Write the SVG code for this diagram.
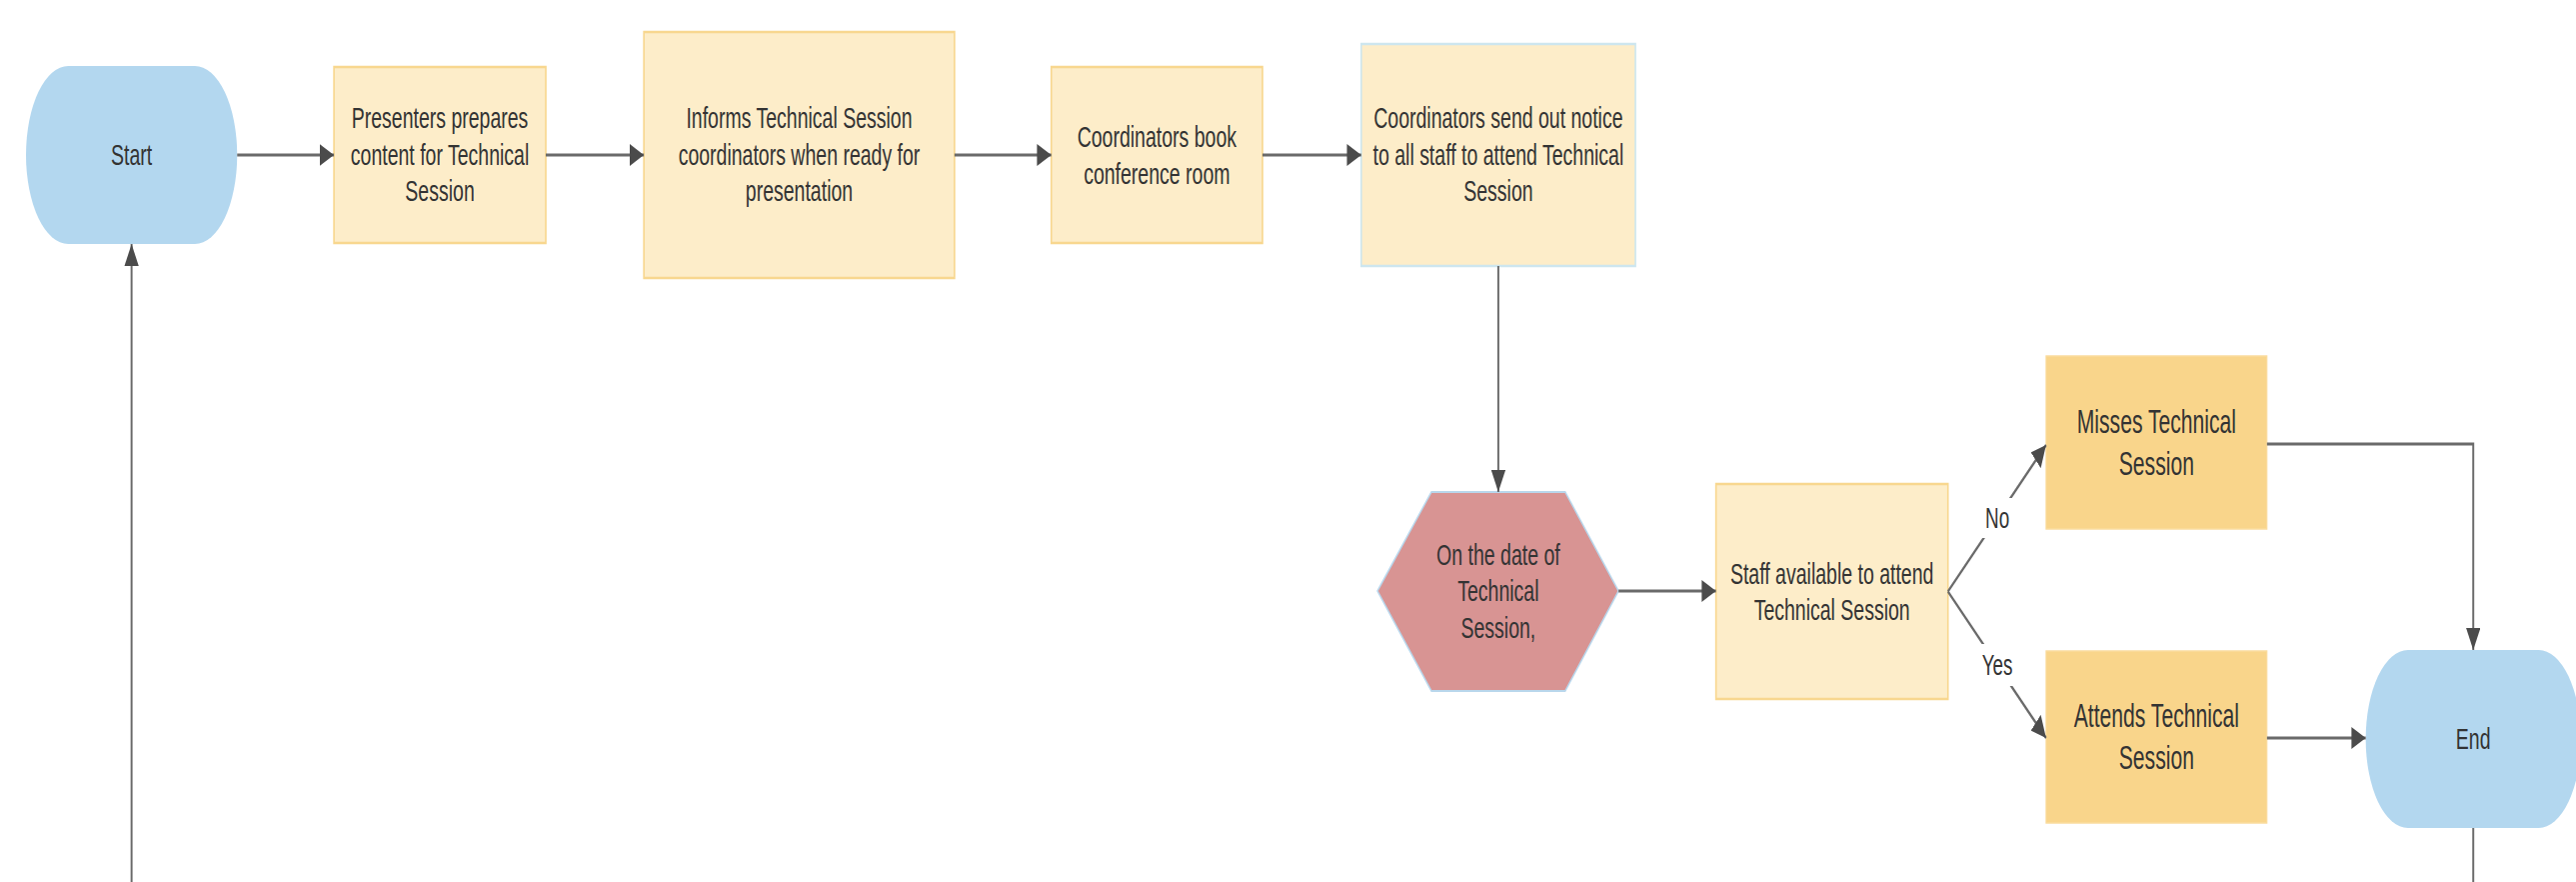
<svg xmlns="http://www.w3.org/2000/svg" width="2577" height="882" viewBox="0 0 2577 882">
<style>
  .term { fill: #b3d7ef; stroke: none; }
  .proc { fill: #fdedc9; stroke: #f8d78f; stroke-width: 2.5; }
  .proc-blue { fill: #fdedc9; stroke: #cde6ef; stroke-width: 2.5; }
  .outcome { fill: #f9d58b; stroke: #fadc9e; stroke-width: 1.5; }
  .hex { fill: #d89493; stroke: #b9d7ec; stroke-width: 2; }
  .edge { fill: none; stroke: #6a6a6a; stroke-width: 3; marker-end: url(#arrow); }
  text { font-family: "Liberation Sans", Arial, sans-serif; fill: #333333; text-anchor: middle; }
  .t { font-size: 30px; }
  .tb { font-size: 32.5px; }
  .lbl { font-size: 29px; }
  .lblbg { fill: #ffffff; stroke: none; }
</style>
<defs>
  <marker id="arrow" markerUnits="userSpaceOnUse" markerWidth="22" markerHeight="22" viewBox="0 0 22 22" refX="22" refY="11" orient="auto">
    <path d="M0,0 L22,11 L0,22 Z" fill="#4b4b4b"/>
  </marker>
</defs>
<rect x="0" y="0" width="2577" height="882" fill="#ffffff"/>
<g transform="scale(0.65,1)">
  <g id="node-start">
    <rect class="term" x="40" y="66" width="325" height="178" rx="65" ry="89"/>
    <text class="t" x="202.5" y="165.5">Start</text>
  </g>
  <g id="node-presenters">
    <rect class="proc" x="514" y="67" width="326" height="176"/>
    <text class="t" x="677" y="128.5">Presenters prepares</text>
    <text class="t" x="677" y="165">content for Technical</text>
    <text class="t" x="677" y="201.5">Session</text>
  </g>
  <g id="node-informs">
    <rect class="proc" x="991" y="32" width="478" height="246"/>
    <text class="t" x="1230" y="128.5">Informs Technical Session</text>
    <text class="t" x="1230" y="165">coordinators when ready for</text>
    <text class="t" x="1230" y="201.5">presentation</text>
  </g>
  <g id="node-book">
    <rect class="proc" x="1618" y="67" width="325" height="176"/>
    <text class="t" x="1780.5" y="147.25">Coordinators book</text>
    <text class="t" x="1780.5" y="183.75">conference room</text>
  </g>
  <g id="node-notice">
    <rect class="proc-blue" x="2095" y="44" width="422" height="222"/>
    <text class="t" x="2306" y="128.5">Coordinators send out notice</text>
    <text class="t" x="2306" y="165">to all staff to attend Technical</text>
    <text class="t" x="2306" y="201.5">Session</text>
  </g>
  <g id="node-date">
    <polygon class="hex" points="2120,591 2203,492 2409,492 2491,591 2409,691 2203,691"/>
    <text class="t" x="2306" y="565">On the date of</text>
    <text class="t" x="2306" y="601.5">Technical</text>
    <text class="t" x="2306" y="638">Session,</text>
  </g>
  <g id="node-available">
    <rect class="proc" x="2641" y="484" width="357" height="215"/>
    <text class="t" x="2819.5" y="583.75">Staff available to attend</text>
    <text class="t" x="2819.5" y="620.25">Technical Session</text>
  </g>
  <g id="node-misses">
    <rect class="outcome" x="3149" y="356" width="340" height="173"/>
    <text class="tb" x="3319" y="433">Misses Technical</text>
    <text class="tb" x="3319" y="475">Session</text>
  </g>
  <g id="node-attends">
    <rect class="outcome" x="3149" y="651" width="340" height="172"/>
    <text class="tb" x="3319" y="727.5">Attends Technical</text>
    <text class="tb" x="3319" y="769.5">Session</text>
  </g>
  <g id="node-end">
    <rect class="term" x="3641" y="650" width="331" height="178" rx="65" ry="89"/>
    <text class="t" x="3806.5" y="749.5">End</text>
  </g>
  <g id="connectors">
    <path class="edge" d="M365,155 H514"/>
    <path class="edge" d="M840,155 H991"/>
    <path class="edge" d="M1469,155 H1618"/>
    <path class="edge" d="M1943,155 H2095"/>
    <path class="edge" d="M2306,266 V492"/>
    <path class="edge" d="M2491,591 H2641"/>
    <path class="edge" d="M2998,591.5 L3149,445"/>
    <path class="edge" d="M2998,591.5 L3149,738"/>
    <path class="edge" d="M3489,444 H3806.5 V650"/>
    <path class="edge" d="M3489,738 H3641"/>
    <path class="edge" d="M3806.5,828 V910 H202.5 V244"/>
    <g id="label-no">
      <rect class="lblbg" x="3045" y="498" width="58" height="40"/>
      <text class="lbl" x="3074" y="528">No</text>
    </g>
    <g id="label-yes">
      <rect class="lblbg" x="3045" y="644" width="58" height="42"/>
      <text class="lbl" x="3074" y="675">Yes</text>
    </g>
  </g>
</g>
</svg>
